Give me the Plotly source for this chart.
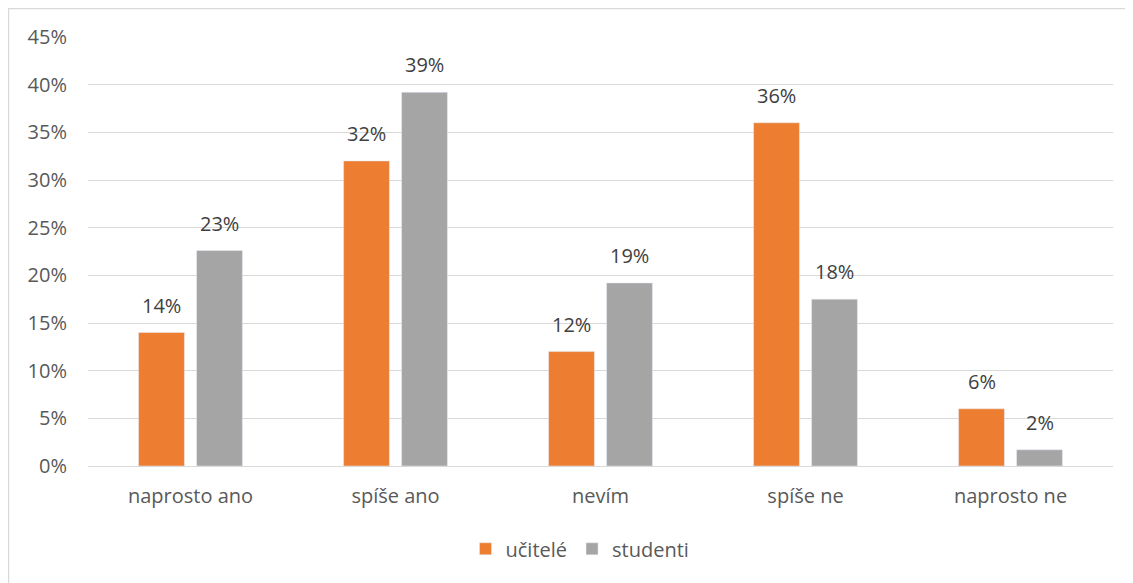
import plotly.graph_objects as go

categories = ["naprosto ano", "spíše ano", "nevím", "spíše ne", "naprosto ne"]
ucitele = [0.14, 0.32, 0.12, 0.36, 0.06]
studenti = [0.226, 0.392, 0.192, 0.175, 0.017]
series_names = ["učitelé", "studenti"]
colors = ["#ED7D31", "#A5A5A5"]

font_family = "Open Sans, Liberation Sans, sans-serif"
text_color = "#595959"
fs = 20

fig = go.Figure()
for name, vals, col in zip(series_names, [ucitele, studenti], colors):
    fig.add_trace(go.Bar(x=categories, y=vals, name=name, marker_color=col))

for vals, shift in zip([ucitele, studenti], [-29, 29]):
    for c, v in zip(categories, vals):
        fig.add_annotation(x=c, y=v, text=f"{v:.0%}", showarrow=False,
                           xshift=shift, yshift=12, yanchor="bottom",
                           font=dict(size=fs, color="#404040", family=font_family))

fig.update_layout(
    width=1133, height=583,
    margin=dict(l=80, r=28, t=29, b=125),
    paper_bgcolor="white", plot_bgcolor="white",
    barmode="group", bargap=0.434, bargroupgap=0.21,
    font=dict(family=font_family, size=fs, color=text_color),
    showlegend=True,
    legend=dict(orientation="h", x=0.48, xanchor="center", y=-0.193, yanchor="middle",
                font=dict(size=fs, color=text_color)),
    yaxis=dict(range=[0, 0.45], dtick=0.05, tickformat=".0%",
               showgrid=True, gridcolor="#D9D9D9", gridwidth=1,
               zeroline=False, showline=False, ticks="", ticklabelstandoff=20,
               tickfont=dict(size=fs, color=text_color)),
    xaxis=dict(showline=True, linecolor="#D9D9D9", linewidth=1, ticks="",
               ticklabelstandoff=12,
               tickfont=dict(size=fs, color=text_color)),
)
fig.add_shape(type="rect", xref="paper", yref="paper",
              x0=-0.0776, x1=1.0166, y0=-0.31, y1=1.0664,
              line=dict(color="#D9D9D9", width=1.5), fillcolor="rgba(0,0,0,0)", layer="below")

fig.write_html("out.html")
